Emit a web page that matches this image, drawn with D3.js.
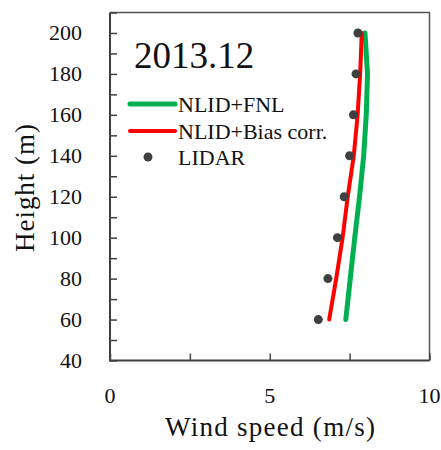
<!DOCTYPE html>
<html>
<head>
<meta charset="utf-8">
<script src="https://cdn.jsdelivr.net/npm/d3@7.9.0/dist/d3.min.js"></script>
<style>
  html, body { margin: 0; padding: 0; background: #fff; }
  svg text { font-family: "Liberation Serif", "Times New Roman", serif; fill: #111; }
</style>
</head>
<body>
<svg id="chart" width="441" height="450"></svg>
<script>
// ---- data ----
const heights = [60, 80, 100, 120, 140, 160, 180, 200];
const fnl     = [7.38, 7.52, 7.66, 7.81, 7.94, 8.02, 8.06, 7.98];   // NLID+FNL
const biasCor = [6.86, 7.08, 7.28, 7.44, 7.63, 7.75, 7.83, 7.88];   // NLID+Bias corr.
const lidar   = [6.52, 6.82, 7.12, 7.33, 7.50, 7.62, 7.70, 7.76];   // LIDAR

const xTicks = [0, 2.5, 5, 7.5, 10];
const xLabels = [0, 5, 10];
const yTicks = d3.range(40, 211, 10);
const yLabels = d3.range(40, 201, 20);

const seriesNames = ['NLID+FNL', 'NLID+Bias corr.', 'LIDAR'];
const title = '2013.12';

// ---- layout ----
const svg = d3.select('#chart');
const mLeft = 110, mRight = 429.5, mTop = 12.5, mBottom = 360.5;

const x = d3.scaleLinear().domain([0, 10]).range([mLeft, mRight]);
const y = d3.scaleLinear().domain([40, 210]).range([mBottom, mTop]);

// frame (top + right, thinner)
svg.append('path')
  .attr('d', `M${mLeft},${mTop}H${mRight}V${mBottom}`)
  .attr('fill', 'none')
  .attr('stroke', '#555')
  .attr('stroke-width', 1.5);

// left axis with inward ticks
const yAxis = svg.append('g')
  .attr('transform', `translate(${mLeft},0)`)
  .call(d3.axisRight(y).tickValues(yTicks).tickSize(7).tickFormat(''));
yAxis.select('.domain').remove();
yAxis.selectAll('line').attr('stroke', '#404040').attr('stroke-width', 1.5);

// bottom axis with inward ticks
const xAxis = svg.append('g')
  .attr('transform', `translate(0,${mBottom})`)
  .call(d3.axisTop(x).tickValues(xTicks).tickSize(7).tickFormat(''));
xAxis.select('.domain').remove();
xAxis.selectAll('line').attr('stroke', '#404040').attr('stroke-width', 1.5);

// axis lines
svg.append('path')
  .attr('d', `M${mLeft},${mTop}V${mBottom}H${mRight}`)
  .attr('fill', 'none')
  .attr('stroke', '#404040')
  .attr('stroke-width', 2);

// tick labels
svg.selectAll('.ylab').data(yLabels).enter().append('text')
  .attr('x', 82).attr('y', d => y(d)).attr('dy', '0.34em')
  .attr('text-anchor', 'end').attr('font-size', 22)
  .text(d => d);

svg.selectAll('.xlab').data(xLabels).enter().append('text')
  .attr('x', d => x(d)).attr('y', 403)
  .attr('text-anchor', 'middle').attr('font-size', 22)
  .text(d => d);

// axis titles
svg.append('text')
  .attr('x', 270).attr('y', 436)
  .attr('text-anchor', 'middle').attr('font-size', 27)
  .attr('textLength', 210).attr('lengthAdjust', 'spacing')
  .text('Wind speed (m/s)');

svg.append('text')
  .attr('transform', 'translate(34,188) rotate(-90)')
  .attr('text-anchor', 'middle').attr('font-size', 27)
  .attr('textLength', 128).attr('lengthAdjust', 'spacing')
  .text('Height (m)');

// lines
const line = vals => d3.line()
  .x((d, i) => x(vals[i]))
  .y(d => y(d))(heights);

svg.append('path')
  .attr('d', line(fnl))
  .attr('fill', 'none').attr('stroke', '#00b050')
  .attr('stroke-width', 5).attr('stroke-linecap', 'round').attr('stroke-linejoin', 'round');

svg.append('path')
  .attr('d', line(biasCor))
  .attr('fill', 'none').attr('stroke', '#ff0000')
  .attr('stroke-width', 4).attr('stroke-linecap', 'round').attr('stroke-linejoin', 'round');

svg.selectAll('.dot').data(heights).enter().append('circle')
  .attr('cx', (d, i) => x(lidar[i]))
  .attr('cy', d => y(d))
  .attr('r', 4.5)
  .attr('fill', '#404040');

// title
svg.append('text')
  .attr('x', 134).attr('y', 68)
  .attr('font-size', 37)
  .text(title);

// legend
const legend = svg.append('g');
const ly = [104, 131, 157];
legend.append('line').attr('x1', 130).attr('x2', 175).attr('y1', ly[0]).attr('y2', ly[0])
  .attr('stroke', '#00b050').attr('stroke-width', 5).attr('stroke-linecap', 'round');
legend.append('line').attr('x1', 130).attr('x2', 175).attr('y1', ly[1]).attr('y2', ly[1])
  .attr('stroke', '#ff0000').attr('stroke-width', 4).attr('stroke-linecap', 'round');
legend.append('circle').attr('cx', 148).attr('cy', ly[2]).attr('r', 4.5).attr('fill', '#404040');

legend.selectAll('text').data(seriesNames).enter().append('text')
  .attr('x', 178).attr('y', (d, i) => ly[i]).attr('dy', '0.36em')
  .attr('font-size', 22)
  .text(d => d);
</script>
</body>
</html>
